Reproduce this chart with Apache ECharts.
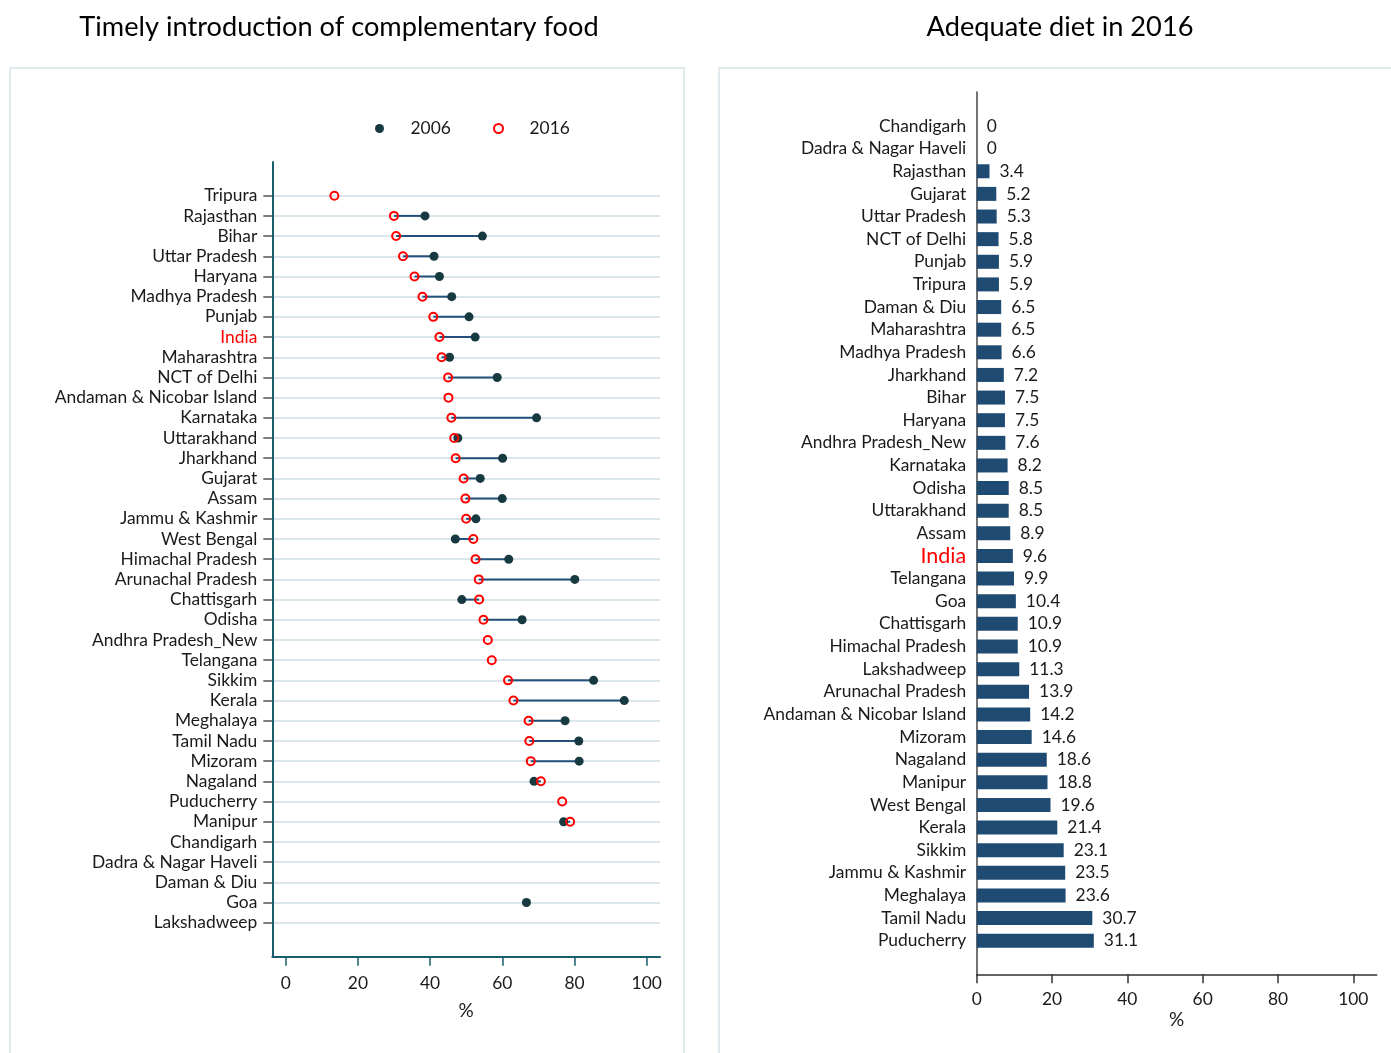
<!DOCTYPE html>
<html>
<head>
<meta charset="utf-8">
<script src="https://cdn.jsdelivr.net/npm/echarts@6/dist/echarts.min.js"></script>
<style>html,body{margin:0;padding:0;background:#fff;}#c{width:1391px;height:1053px;}</style>
</head>
<body>
<div id="c"></div>
<script>
// ---- Left panel: timely introduction of complementary food (%) ----
const leftStates = ['Tripura','Rajasthan','Bihar','Uttar Pradesh','Haryana','Madhya Pradesh','Punjab','India','Maharashtra','NCT of Delhi','Andaman & Nicobar Island','Karnataka','Uttarakhand','Jharkhand','Gujarat','Assam','Jammu & Kashmir','West Bengal','Himachal Pradesh','Arunachal Pradesh','Chattisgarh','Odisha','Andhra Pradesh_New','Telangana','Sikkim','Kerala','Meghalaya','Tamil Nadu','Mizoram','Nagaland','Puducherry','Manipur','Chandigarh','Dadra & Nagar Haveli','Daman & Diu','Goa','Lakshadweep'];
const values2006 = [null,38.6,54.5,41.1,42.6,46.0,50.8,52.5,45.4,58.6,null,69.5,47.7,60.1,53.9,60.0,52.7,47.0,61.8,80.1,48.8,65.5,null,null,85.3,93.8,77.4,81.2,81.3,68.8,null,77.0,null,null,null,66.7,null];
const values2016 = [13.5,30.0,30.6,32.5,35.7,37.9,40.9,42.6,43.2,45.0,45.1,45.9,46.7,47.1,49.3,49.8,50.0,52.0,52.6,53.5,53.6,54.8,56.0,57.1,61.6,63.1,67.3,67.5,67.9,70.7,76.6,78.8,null,null,null,null,null];
const leftTicks = [0,20,40,60,80,100];

// ---- Right panel: adequate diet in 2016 (%) ----
const rightStates = ['Chandigarh','Dadra & Nagar Haveli','Rajasthan','Gujarat','Uttar Pradesh','NCT of Delhi','Punjab','Tripura','Daman & Diu','Maharashtra','Madhya Pradesh','Jharkhand','Bihar','Haryana','Andhra Pradesh_New','Karnataka','Odisha','Uttarakhand','Assam','India','Telangana','Goa','Chattisgarh','Himachal Pradesh','Lakshadweep','Arunachal Pradesh','Andaman & Nicobar Island','Mizoram','Nagaland','Manipur','West Bengal','Kerala','Sikkim','Jammu & Kashmir','Meghalaya','Tamil Nadu','Puducherry'];
const adequateDiet = [0,0,3.4,5.2,5.3,5.8,5.9,5.9,6.5,6.5,6.6,7.2,7.5,7.5,7.6,8.2,8.5,8.5,8.9,9.6,9.9,10.4,10.9,10.9,11.3,13.9,14.2,14.6,18.6,18.8,19.6,21.4,23.1,23.5,23.6,30.7,31.1];
const rightTicks = [0,20,40,60,80,100];

const FONT = 'Lato';
const txt = '#1a1a1a';
const LBL = 17.4;

const pts2006 = [], pts2016 = [], segs = [];
leftStates.forEach((s, i) => {
  if (values2006[i] != null) pts2006.push([values2006[i], i]);
  if (values2016[i] != null) pts2016.push([values2016[i], i]);
  if (values2006[i] != null && values2016[i] != null) segs.push([i, values2016[i], values2006[i]]);
});

function hiddenAxis(grid, extra) {
  return Object.assign({gridIndex: grid, type: 'value', show: false, min: 0, max: 1}, extra || {});
}

const chart = echarts.init(document.getElementById('c'), null, {renderer: 'canvas'});
const option = {
  backgroundColor: '#fff',
  animation: false,
  textStyle: {fontFamily: FONT},
  title: [
    {text: 'Timely introduction of complementary food', left: 334, top: 9, textAlign: 'center',
     textStyle: {fontFamily: FONT, fontSize: 27.2, fontWeight: 'normal', color: '#000'}},
    {text: 'Adequate diet in 2016', left: 1055, top: 9, textAlign: 'center',
     textStyle: {fontFamily: FONT, fontSize: 27.2, fontWeight: 'normal', color: '#000'}}
  ],
  graphic: [
    {type: 'rect', shape: {x: 10, y: 68, width: 674, height: 1100}, style: {fill: 'none', stroke: '#e3eaee', lineWidth: 2}, z: -10},
    {type: 'rect', shape: {x: 719, y: 68, width: 700, height: 1100}, style: {fill: 'none', stroke: '#e3eaee', lineWidth: 2}, z: -10}
  ],
  legend: [
    {data: ['2006'], left: 370, top: 115, itemWidth: 52, itemHeight: 9, textStyle: {fontFamily: FONT, fontSize: LBL, color: txt}},
    {data: ['2016'], left: 488, top: 115, itemWidth: 52, itemHeight: 9, textStyle: {fontFamily: FONT, fontSize: LBL, color: txt}}
  ],
  grid: [
    {left: 272.3, top: 162, width: 387.7, height: 794.7},   // 0 left frame
    {left: 272.3, top: 195.7, width: 387.7, height: 727},   // 1 left data
    {left: 285.7, top: 195.7, width: 361, height: 761},     // 2 left ticks
    {left: 976.7, top: 92, width: 400, height: 882.3},      // 3 right frame
    {left: 976.7, top: 126, width: 376.6, height: 814.7},   // 4 right data
    {left: 976.7, top: 126, width: 376.6, height: 848.3}    // 5 right ticks
  ],
  xAxis: [
    {gridIndex: 0, type: 'value', min: 0, max: 1, position: 'bottom',
     axisLine: {show: true, onZero: false, lineStyle: {color: '#1b5e6b', width: 2}},
     axisTick: {show: false}, axisLabel: {show: false}, splitLine: {show: false},
     name: '%', nameLocation: 'middle', nameGap: 45, nameTextStyle: {fontFamily: FONT, fontSize: 19, color: txt}},
    {gridIndex: 1, type: 'value', min: -3.7, max: 103.7, show: false},
    {gridIndex: 2, type: 'value', min: 0, max: 100, interval: 20, position: 'bottom',
     axisLine: {show: false, onZero: false},
     axisTick: {show: true, length: 9, lineStyle: {color: '#1b5e6b', width: 1.5}},
     axisLabel: {show: true, margin: 18, fontFamily: FONT, fontSize: LBL, color: txt,
                 formatter: v => leftTicks.indexOf(v) >= 0 ? String(v) : ''},
     splitLine: {show: false}},
    {gridIndex: 3, type: 'value', min: 0, max: 1, position: 'bottom',
     axisLine: {show: true, onZero: false, lineStyle: {color: '#333', width: 1.5}},
     axisTick: {show: false}, axisLabel: {show: false}, splitLine: {show: false},
     name: '%', nameLocation: 'middle', nameGap: 36, nameTextStyle: {fontFamily: FONT, fontSize: 19, color: txt}},
    {gridIndex: 4, type: 'value', min: 0, max: 100, show: false},
    {gridIndex: 5, type: 'value', min: 0, max: 100, interval: 20, position: 'bottom',
     axisLine: {show: false, onZero: false},
     axisTick: {show: true, length: 9, lineStyle: {color: '#333', width: 1.5}},
     axisLabel: {show: true, margin: 17, fontFamily: FONT, fontSize: LBL, color: txt,
                 formatter: v => rightTicks.indexOf(v) >= 0 ? String(v) : ''},
     splitLine: {show: false}}
  ],
  yAxis: [
    {gridIndex: 0, type: 'value', min: 0, max: 1, position: 'left',
     axisLine: {show: true, onZero: false, lineStyle: {color: '#1b5e6b', width: 2}},
     axisTick: {show: false}, axisLabel: {show: false}, splitLine: {show: false}},
    {gridIndex: 1, type: 'category', data: leftStates, inverse: true, boundaryGap: false, position: 'left',
     axisLine: {show: false, onZero: false},
     axisTick: {show: true, interval: 0, length: 9, lineStyle: {color: '#555', width: 1.5}},
     axisLabel: {interval: 0, margin: 15, fontFamily: FONT, fontSize: LBL, color: txt,
                 formatter: v => v === 'India' ? '{r|India}' : v,
                 rich: {r: {color: '#ff0000', fontFamily: FONT, fontSize: LBL}}},
     splitLine: {show: true, interval: 0, lineStyle: {color: '#dbe5ec', width: 2}}},
    hiddenAxis(2),
    {gridIndex: 3, type: 'value', min: 0, max: 1, position: 'left',
     axisLine: {show: true, onZero: false, lineStyle: {color: '#444', width: 1.5}},
     axisTick: {show: false}, axisLabel: {show: false}, splitLine: {show: false}},
    {gridIndex: 4, type: 'category', data: rightStates, inverse: true, boundaryGap: false, position: 'left',
     axisLine: {show: false, onZero: false}, axisTick: {show: false},
     axisLabel: {interval: 0, margin: 10.5, fontFamily: FONT, fontSize: LBL, color: txt,
                 formatter: v => v === 'India' ? '{r|India}' : v,
                 rich: {r: {color: '#ff0000', fontFamily: FONT, fontSize: 21.5}}},
     splitLine: {show: false}},
    hiddenAxis(5)
  ],
  series: [
    {type: 'custom', name: 'change', xAxisIndex: 1, yAxisIndex: 1, z: 2,
     data: segs, encode: {x: [1, 2], y: 0},
     renderItem: function (params, api) {
       const p1 = api.coord([api.value(1), api.value(0)]);
       const p2 = api.coord([api.value(2), api.value(0)]);
       return {type: 'line', shape: {x1: p1[0], y1: p1[1], x2: p2[0], y2: p2[1]},
               style: {stroke: '#23507a', lineWidth: 2}};
     }},
    {type: 'scatter', name: '2006', xAxisIndex: 1, yAxisIndex: 1, z: 3, data: pts2006,
     symbol: 'circle', symbolSize: 9, itemStyle: {color: '#173a40', opacity: 1}},
    {type: 'scatter', name: '2016', xAxisIndex: 1, yAxisIndex: 1, z: 4, data: pts2016,
     symbol: 'circle', symbolSize: 8, itemStyle: {color: 'rgba(255,255,255,0)', borderColor: '#ff0000', borderWidth: 2, opacity: 1}},
    {type: 'bar', name: 'Adequate diet', xAxisIndex: 4, yAxisIndex: 4, data: adequateDiet, barWidth: 14,
     itemStyle: {color: '#1f4a72'},
     label: {show: true, position: 'right', distance: 10, fontFamily: FONT, fontSize: LBL, color: txt}}
  ]
};
chart.setOption(option);
</script>
</body>
</html>
